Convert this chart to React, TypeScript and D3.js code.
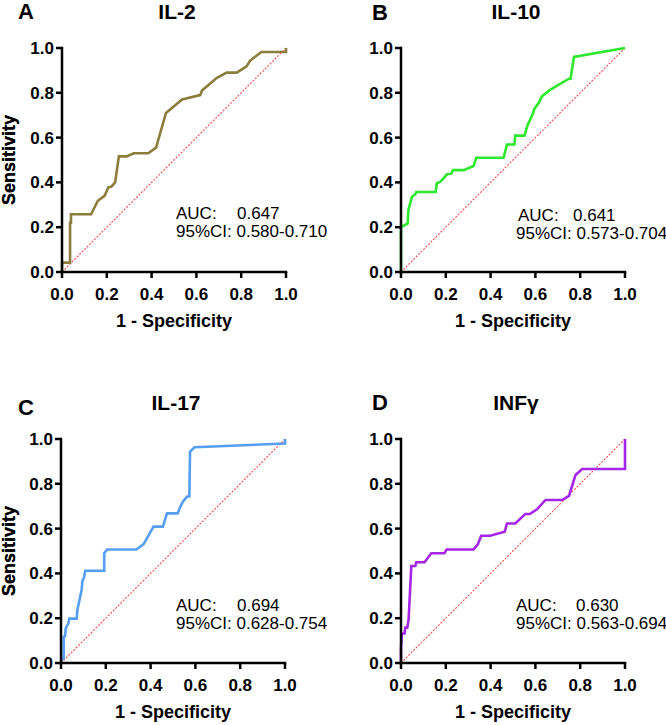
import React from 'react';
import * as d3 from 'd3';

// ROC curve points (1 - specificity, sensitivity) per cytokine
const il2Fpr = [0, 0, 0.036, 0.036, 0.04, 0.04, 0.13, 0.16, 0.19, 0.207, 0.22, 0.237, 0.254, 0.289, 0.32, 0.385, 0.42, 0.464, 0.5, 0.536, 0.617, 0.625, 0.69, 0.735, 0.78, 0.824, 0.84, 0.89, 1.0, 1.0];
const il2Tpr = [0, 0.042, 0.042, 0.22, 0.22, 0.258, 0.258, 0.318, 0.34, 0.378, 0.38, 0.4, 0.516, 0.516, 0.53, 0.53, 0.555, 0.71, 0.74, 0.77, 0.79, 0.81, 0.866, 0.89, 0.89, 0.918, 0.944, 0.982, 0.982, 1.0];

const il10Fpr = [0, 0, 0.009, 0.03, 0.033, 0.042, 0.049, 0.064, 0.068, 0.155, 0.16, 0.175, 0.19, 0.205, 0.225, 0.232, 0.28, 0.324, 0.336, 0.458, 0.473, 0.506, 0.51, 0.551, 0.566, 0.59, 0.595, 0.615, 0.63, 0.667, 0.75, 0.757, 0.772, 1.0];
const il10Tpr = [0, 0.205, 0.205, 0.217, 0.277, 0.31, 0.336, 0.347, 0.357, 0.357, 0.396, 0.402, 0.418, 0.436, 0.439, 0.455, 0.455, 0.473, 0.51, 0.51, 0.569, 0.569, 0.609, 0.609, 0.658, 0.71, 0.728, 0.755, 0.785, 0.814, 0.863, 0.863, 0.96, 1.0];

const il17Fpr = [0, 0.004, 0.012, 0.012, 0.018, 0.021, 0.033, 0.037, 0.07, 0.073, 0.092, 0.096, 0.102, 0.108, 0.193, 0.193, 0.206, 0.336, 0.369, 0.413, 0.455, 0.473, 0.521, 0.529, 0.544, 0.563, 0.573, 0.576, 0.596, 1.0, 1.0];
const il17Tpr = [0, 0.02, 0.02, 0.117, 0.12, 0.155, 0.177, 0.198, 0.198, 0.237, 0.326, 0.37, 0.378, 0.412, 0.412, 0.49, 0.507, 0.507, 0.531, 0.609, 0.609, 0.668, 0.668, 0.69, 0.72, 0.743, 0.743, 0.943, 0.963, 0.98, 1.0];

const infgFpr = [0, 0, 0.004, 0.016, 0.019, 0.028, 0.034, 0.046, 0.064, 0.068, 0.105, 0.135, 0.194, 0.204, 0.324, 0.343, 0.358, 0.398, 0.463, 0.473, 0.51, 0.555, 0.575, 0.607, 0.645, 0.72, 0.75, 0.779, 0.809, 1.0, 1.0];
const infgTpr = [0, 0.066, 0.132, 0.132, 0.158, 0.158, 0.195, 0.433, 0.433, 0.45, 0.45, 0.49, 0.49, 0.507, 0.507, 0.53, 0.568, 0.568, 0.586, 0.623, 0.623, 0.665, 0.665, 0.686, 0.728, 0.728, 0.746, 0.839, 0.866, 0.866, 1.0];

const ticks = [0, 0.2, 0.4, 0.6, 0.8, 1.0];
const panelLetters = ['A', 'B', 'C', 'D'];
const panelTitles = ['IL-2', 'IL-10', 'IL-17', 'INFγ'];
const aucValues = ['0.647', '0.641', '0.694', '0.630'];
const ciValues = ['0.580-0.710', '0.573-0.704', '0.628-0.754', '0.563-0.694'];

const FONT = "'Liberation Sans', Arial, Helvetica, sans-serif";

interface RocPanelProps {
  left: number;
  top: number;
  fpr: number[];
  tpr: number[];
  color: string;
  letter: string;
  title: string;
  auc: string;
  ci: string;
  letterX: number;
  letterDy: number;
  aucX: number;
  ciX: number;
  valueX: number;
  textDy: number;
}

const SIZE = 224;

const RocPanel: React.FC<RocPanelProps> = (p) => {
  const x = d3.scaleLinear().domain([0, 1]).range([p.left, p.left + SIZE]);
  const y = d3.scaleLinear().domain([0, 1]).range([p.top + SIZE, p.top]);
  const pts: [number, number][] = p.fpr.map((f, i) => [f, p.tpr[i]]);
  const line = d3.line<[number, number]>()
    .x(d => x(d[0]))
    .y(d => y(d[1]));

  const cx = p.left + SIZE / 2;
  const cy = p.top + SIZE / 2;

  return (
    <g fontFamily={FONT}>
      {/* panel letter and title */}
      <text x={p.letterX} y={p.top - 29 + p.letterDy} fontSize={22} fontWeight="bold">{p.letter}</text>
      <text x={cx + 3} y={p.top - 29} fontSize={21} fontWeight="bold" textAnchor="middle">{p.title}</text>

      {/* reference diagonal */}
      <line x1={x(0)} y1={y(0)} x2={x(1)} y2={y(1)} stroke="#ff4a4a" strokeWidth={1.1} strokeDasharray="2,1.5" />

      {/* ROC curve */}
      <path d={line(pts) || ''} fill="none" stroke={p.color} strokeWidth={2.6} strokeLinejoin="miter" />

      {/* axes */}
      <line x1={x(0)} y1={y(0)} x2={x(0)} y2={y(1)} stroke="#000" strokeWidth={2.5} strokeLinecap="square" />
      <line x1={x(0)} y1={y(0)} x2={x(1)} y2={y(0)} stroke="#000" strokeWidth={2.5} strokeLinecap="square" />
      {ticks.map(t => (
        <g key={'y' + t}>
          <line x1={x(0) - 6} x2={x(0)} y1={y(t)} y2={y(t)} stroke="#000" strokeWidth={2.5} />
          <text x={x(0) - 8} y={y(t) + 6} fontSize={17} fontWeight="bold" textAnchor="end">{t.toFixed(1)}</text>
        </g>
      ))}
      {ticks.map(t => (
        <g key={'x' + t}>
          <line x1={x(t)} x2={x(t)} y1={y(0)} y2={y(0) + 6} stroke="#000" strokeWidth={2.5} />
          <text x={x(t)} y={y(0) + 28} fontSize={17} fontWeight="bold" textAnchor="middle">{t.toFixed(1)}</text>
        </g>
      ))}

      {/* axis titles */}
      <text transform={`translate(${15},${cy}) rotate(-90)`} fontSize={18} fontWeight="bold" textAnchor="middle">Sensitivity</text>
      <text x={cx} y={y(0) + 55} fontSize={18} fontWeight="bold" textAnchor="middle">1 - Specificity</text>

      {/* AUC annotation */}
      <text x={p.aucX} y={p.top + 171 + p.textDy} fontSize={17}>AUC:</text>
      <text x={p.valueX} y={p.top + 171 + p.textDy} fontSize={17}>{p.auc}</text>
      <text x={p.ciX} y={p.top + 189 + p.textDy} fontSize={17}>95%CI: {p.ci}</text>
    </g>
  );
};

export default function App() {
  return (
    <svg width={666} height={725} style={{ display: 'block', position: 'absolute', left: 0, top: 0, background: '#fff' }}>
      <rect width={666} height={725} fill="#fff" />
      <RocPanel left={62} top={48} fpr={il2Fpr} tpr={il2Tpr} color="#8b7d3b"
        letter={panelLetters[0]} title={panelTitles[0]} auc={aucValues[0]} ci={ciValues[0]}
        letterX={18} letterDy={0} aucX={176} ciX={176} valueX={237} textDy={0} />
      <RocPanel left={401} top={48} fpr={il10Fpr} tpr={il10Tpr} color="#2ee82e"
        letter={panelLetters[1]} title={panelTitles[1]} auc={aucValues[1]} ci={ciValues[1]}
        letterX={372} letterDy={1} aucX={518} ciX={516} valueX={573} textDy={2} />
      <RocPanel left={61} top={439} fpr={il17Fpr} tpr={il17Tpr} color="#559ef0"
        letter={panelLetters[2]} title={panelTitles[2]} auc={aucValues[2]} ci={ciValues[2]}
        letterX={18} letterDy={5} aucX={176} ciX={176} valueX={237} textDy={1} />
      <RocPanel left={401} top={439} fpr={infgFpr} tpr={infgTpr} color="#a526e8"
        letter={panelLetters[3]} title={panelTitles[3]} auc={aucValues[3]} ci={ciValues[3]}
        letterX={372} letterDy={0} aucX={516} ciX={516} valueX={576} textDy={1} />
    </svg>
  );
}
